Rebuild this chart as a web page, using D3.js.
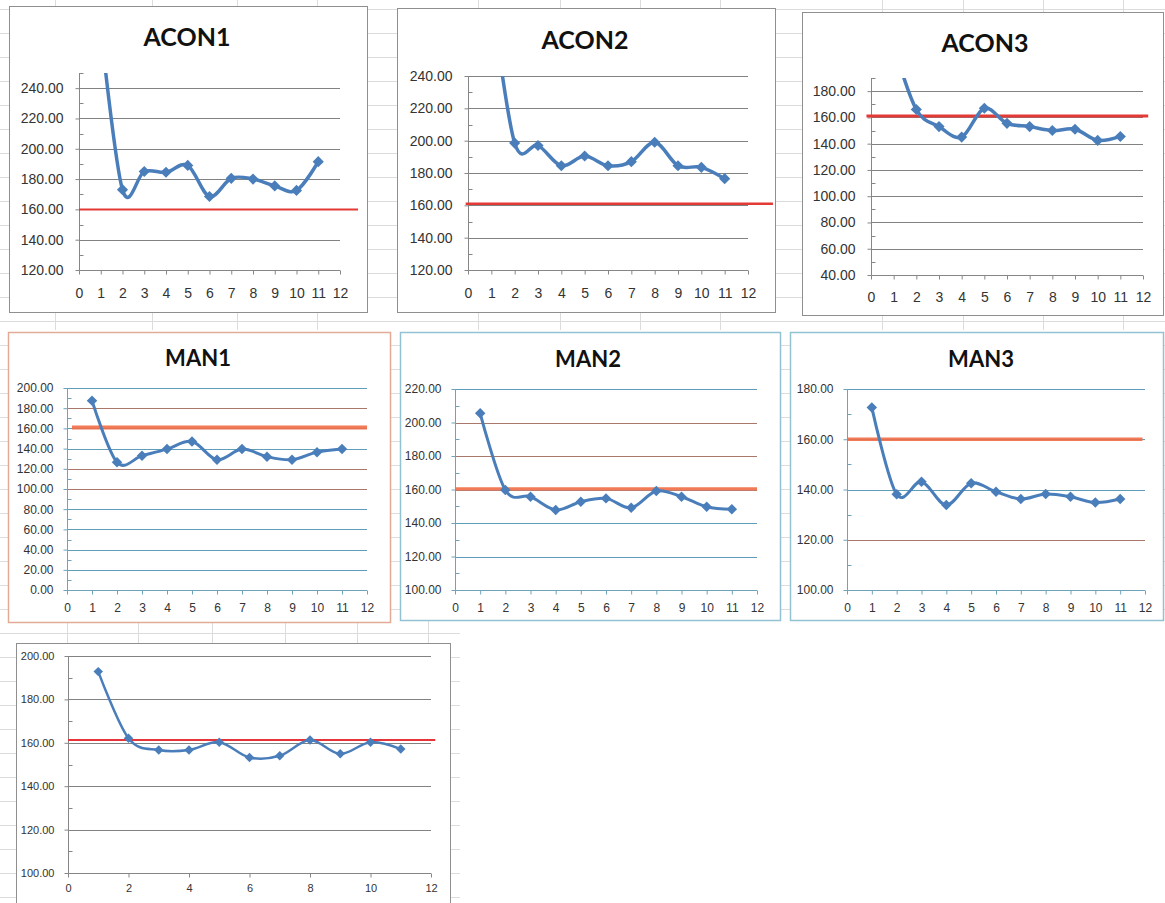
<!DOCTYPE html>
<html>
<head>
<meta charset="utf-8">
<title>ACON / MAN</title>
<style>
body { margin: 0; background: #fff; overflow: hidden; }
text { font-family: 'Liberation Sans', Arial, sans-serif; }
.title { font-family: Lato, 'Liberation Sans', sans-serif; font-weight: bold; fill: #111; }
.tick-label { fill: #333; }
</style>
<script src="https://d3js.org/d3.v7.min.js"></script>
</head>
<body>
<svg width="1165" height="903"></svg>
<script>
// ---- data ----
const xPoints = [1, 2, 3, 4, 5, 6, 7, 8, 9, 10, 11];

const acon1Values = [280, 173, 185, 184.5, 189, 168.5, 180.5, 180, 175.5, 172.5, 191.5];
const acon2Values = [290, 198.5, 197, 184.5, 190.5, 184.5, 187, 199, 184.5, 183.5, 176.5];
const acon3Values = [215, 166, 153, 145, 167, 155.5, 153, 150, 151, 142.5, 145.5];
const man1Values = [187.5, 126.5, 133, 139.5, 147, 129, 139.5, 132, 129, 136.5, 139.5];
const man2Values = [205.5, 159.7, 155.7, 147.8, 152.7, 154.7, 149.1, 159.1, 155.7, 149.7, 148.2];
const man3Values = [172.6, 138.1, 143.1, 133.8, 142.5, 139.1, 136.2, 138.2, 137.1, 134.8, 136.2];
const bottomValues = [192.8, 162.1, 156.7, 156.7, 160.3, 153.2, 154, 161.3, 154.9, 160.3, 157.1];

// red target line, one per chart (same order as the charts)
const targetLevels = [160, 161, 161, 161, 160.3, 160, 161.3];

const chartTitles = ['ACON1', 'ACON2', 'ACON3', 'MAN1', 'MAN2', 'MAN3', ''];

const acon1Ticks = [120, 140, 160, 180, 200, 220, 240];
const acon2Ticks = [120, 140, 160, 180, 200, 220, 240];
const acon3Ticks = [40, 60, 80, 100, 120, 140, 160, 180];
const man1Ticks = [0, 20, 40, 60, 80, 100, 120, 140, 160, 180, 200];
const man2Ticks = [100, 120, 140, 160, 180, 200, 220];
const man3Ticks = [100, 120, 140, 160, 180];
const bottomTicks = [100, 120, 140, 160, 180, 200];

const xTicksAll = [0, 1, 2, 3, 4, 5, 6, 7, 8, 9, 10, 11, 12];
const xTicksEven = [0, 2, 4, 6, 8, 10, 12];

const svg = d3.select('svg');
const width = +svg.attr('width');
const height = +svg.attr('height');
const fmt = d3.format('.2f');

// ---- spreadsheet background ----
const bg = svg.append('g').attr('stroke', '#dcdcdc').attr('stroke-width', 1);
[55, 152, 237, 317, 478, 560, 640, 720, 882, 963, 1043, 1123].forEach(x => {
  bg.append('line').attr('x1', x + 0.5).attr('x2', x + 0.5).attr('y1', 0).attr('y2', 330);
});
[67, 138, 212, 285, 357, 428].forEach(x => {
  bg.append('line').attr('x1', x + 0.5).attr('x2', x + 0.5).attr('y1', 620).attr('y2', 650);
});
for (let y = 9; y < 903; y += 24) {
  bg.append('line').attr('x1', 0).attr('x2', y > 625 ? 460 : width).attr('y1', y + 0.5).attr('y2', y + 0.5);
}

// ---- chart layouts ----
const panels = [
  { values: acon1Values, ticks: acon1Ticks, xTicks: xTicksAll, domain: [120, 250],
    frame: [9, 6, 358, 306], plot: [79, 340, 73, 270], titleX: 187, titleY: 46, titleSize: 25,
    refExt: [0, 12.83], refColor: '#e33a36', refWidth: 2, style: 'acon', labelSize: 14, xLabelSize: 14, xLabelDy: 28 },
  { values: acon2Values, ticks: acon2Ticks, xTicks: xTicksAll, domain: [120, 240],
    frame: [397, 8, 378, 304], plot: [468, 748, 76, 270], titleX: 585, titleY: 49, titleSize: 25,
    refExt: [-0.1, 13.07], refColor: '#e33a36', refWidth: 2.5, style: 'acon', labelSize: 14, xLabelSize: 14, xLabelDy: 28 },
  { values: acon3Values, ticks: acon3Ticks, xTicks: xTicksAll, domain: [40, 190],
    frame: [802, 12, 361, 303], plot: [871, 1143, 78, 275], titleX: 985, titleY: 52, titleSize: 25,
    refExt: [-0.2, 12.23], refColor: '#e33a36', refWidth: 3, style: 'acon', labelSize: 14, xLabelSize: 14, xLabelDy: 27 },
  { values: man1Values, ticks: man1Ticks, xTicks: xTicksAll, domain: [0, 200],
    frame: [8, 332, 382, 290], plot: [67, 367, 388, 590], titleX: 198, titleY: 366, titleSize: 22,
    refExt: [0.2, 12], refColor: '#f26c44', refWidth: 4, style: 'man', frameColor: '#e2ab95',
    brown: [100, 120, 180], labelSize: 12, xLabelSize: 12, xLabelDy: 22 },
  { values: man2Values, ticks: man2Ticks, xTicks: xTicksAll, domain: [100, 220],
    frame: [400, 332, 380, 288], plot: [455, 757, 389, 590], titleX: 588, titleY: 367, titleSize: 22,
    refExt: [0, 12], refColor: '#f26c44', refWidth: 3.5, style: 'man', frameColor: '#93c2d2',
    brown: [180, 200], labelSize: 12, xLabelSize: 12, xLabelDy: 22 },
  { values: man3Values, ticks: man3Ticks, xTicks: xTicksAll, domain: [100, 180],
    frame: [790, 332, 373, 288], plot: [847, 1145, 389, 590], titleX: 981, titleY: 367, titleSize: 22,
    refExt: [0, 11.9], refColor: '#f26c44', refWidth: 3.5, style: 'man', frameColor: '#93c2d2',
    brown: [120], labelSize: 12, xLabelSize: 12, xLabelDy: 22 },
  { values: bottomValues, ticks: bottomTicks, xTicks: xTicksEven, domain: [100, 200],
    frame: [16, 643, 434, 280], plot: [68, 431, 656, 873], titleX: 0, titleY: 0, titleSize: 0,
    refExt: [0, 12.14], refColor: '#e6353a', refWidth: 2, style: 'acon', labelSize: 11, xLabelSize: 11, xLabelDy: 19 }
];

const render = (p, i) => {
  const [px0, px1, pyTop, pyBot] = p.plot;
  const isMan = p.style === 'man';
  const axisColor = isMan ? '#6fa3ba' : '#868686';

  const xScale = d3.scaleLinear().domain([0, 12]).range([px0, px1]);
  const yScale = d3.scaleLinear().domain(p.domain).range([pyBot, pyTop]);

  const g = svg.append('g');

  // chart frame
  g.append('rect')
    .attr('x', p.frame[0] + 0.5).attr('y', p.frame[1] + 0.5)
    .attr('width', p.frame[2]).attr('height', p.frame[3])
    .attr('fill', '#fff')
    .attr('stroke', isMan ? p.frameColor : '#8f8f8f')
    .attr('stroke-width', isMan ? 1.5 : 1);

  if (chartTitles[i]) {
    g.append('text').attr('class', 'title')
      .attr('x', p.titleX).attr('y', p.titleY)
      .attr('text-anchor', 'middle')
      .style('font-size', p.titleSize + 'px')
      .text(chartTitles[i]);
  }

  // horizontal gridlines
  g.selectAll('.grid').data(p.ticks.filter(t => t !== p.domain[0]))
    .enter().append('line')
      .attr('x1', px0).attr('x2', px1)
      .attr('y1', d => Math.round(yScale(d)) + 0.5).attr('y2', d => Math.round(yScale(d)) + 0.5)
      .attr('stroke', d => isMan ? (p.brown.includes(d) ? '#a9786b' : '#5f9db8') : '#828282')
      .attr('stroke-width', 1);

  // y axis: major ticks outside, minor ticks inside
  const yAxis = d3.axisLeft(yScale).tickValues(p.ticks).tickSize(4).tickPadding(p.labelSize > 12 ? 12 : 10).tickFormat(fmt);
  const yG = g.append('g').attr('transform', `translate(${Math.round(px0) + 0.5},0)`).call(yAxis);
  const minor = [];
  for (let v = p.domain[0] + 10; v <= p.domain[1]; v += 20) minor.push(v);
  yG.selectAll('.minor').data(minor).enter().append('line')
    .attr('x1', 0).attr('x2', 4)
    .attr('y1', d => Math.round(yScale(d)) + 0.5).attr('y2', d => Math.round(yScale(d)) + 0.5)
    .attr('stroke', axisColor);

  // x axis
  const xAxis = d3.axisBottom(xScale).tickValues(p.xTicks).tickSize(4).tickPadding(p.xLabelDy - 4 - p.xLabelSize * 0.75).tickFormat(d3.format('d'));
  const xG = g.append('g').attr('transform', `translate(0,${Math.round(pyBot) + 0.5})`).call(xAxis);

  [yG, xG].forEach(a => {
    a.select('.domain').attr('stroke', axisColor);
    a.selectAll('.tick line').attr('stroke', axisColor);
    a.selectAll('.tick text').attr('class', 'tick-label').attr('fill', '#333')
      .style('font-family', "'Liberation Sans', Arial, sans-serif");
  });
  yG.selectAll('.tick text').style('font-size', p.labelSize + 'px');
  xG.selectAll('.tick text').style('font-size', p.xLabelSize + 'px');
  yG.select('.domain').attr('d', `M0,${yScale(p.domain[1])}V${Math.round(pyBot) + 0.5}`);
  xG.select('.domain').attr('d', `M${Math.round(px0) + 0.5},0H${px1}`);

  // red target line
  g.append('line')
    .attr('x1', xScale(p.refExt[0])).attr('x2', xScale(p.refExt[1]))
    .attr('y1', yScale(targetLevels[i])).attr('y2', yScale(targetLevels[i]))
    .attr('stroke', p.refColor).attr('stroke-width', p.refWidth)
    .attr('opacity', isMan ? 0.9 : 1);

  // series, clipped to plot area
  const clipId = 'clip' + i;
  svg.append('clipPath').attr('id', clipId)
    .append('rect').attr('x', px0).attr('y', pyTop).attr('width', px1 - px0 + 10).attr('height', pyBot - pyTop);

  const pts = xPoints.map((x, k) => ({ x: x, y: p.values[k] }));
  const line = d3.line().x(d => xScale(d.x)).y(d => yScale(d.y)).curve(d3.curveCardinal.tension(0));
  const sg = g.append('g').attr('clip-path', `url(#${clipId})`);
  sg.append('path').datum(pts)
    .attr('d', line)
    .attr('fill', 'none')
    .attr('stroke', '#4a7ebb')
    .attr('stroke-width', i === 6 ? 2.5 : (isMan ? 3 : 3.5))
    .attr('stroke-linejoin', 'round');

  sg.selectAll('.marker').data(pts.filter(d => d.y <= p.domain[1]))
    .enter().append('path')
      .attr('d', d3.symbol().type(d3.symbolSquare).size(i === 6 ? 45 : (isMan ? 55 : 62)))
      .attr('transform', d => `translate(${xScale(d.x)},${yScale(d.y)}) rotate(45)`)
      .attr('fill', '#4a7ebb');
};

panels.forEach(render);
</script>
</body>
</html>
